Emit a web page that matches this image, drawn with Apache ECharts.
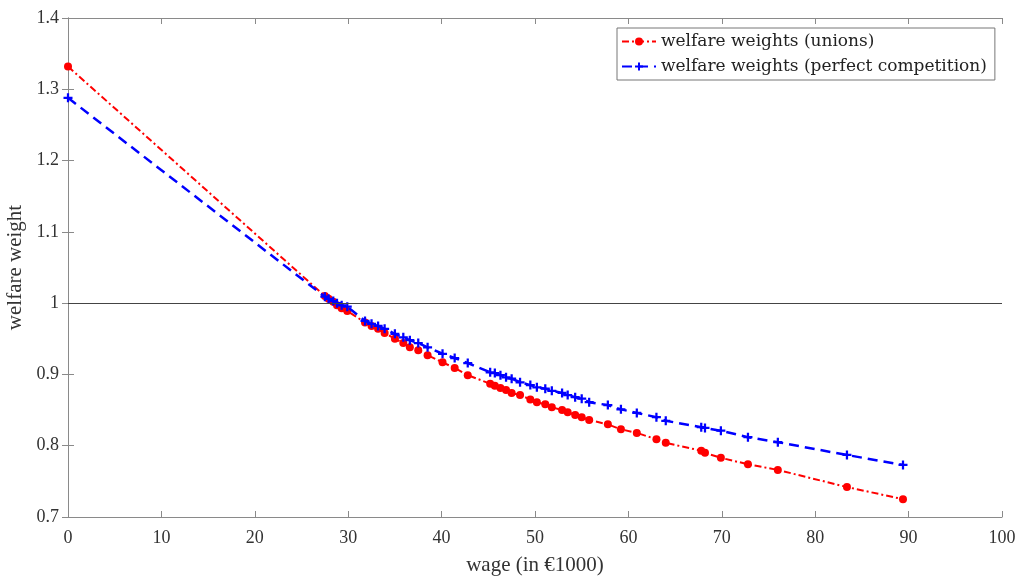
<!DOCTYPE html>
<html>
<head>
<meta charset="utf-8">
<script src="https://cdn.jsdelivr.net/npm/echarts@6/dist/echarts.min.js"></script>
<style>
  html, body { margin: 0; padding: 0; background: #fff; }
  #main { width: 1024px; height: 579px; }
</style>
</head>
<body>
<div id="main"></div>
<script>
// wage in €1000 (shared by both series)
var wages = [0, 27.5, 27.9, 28.4, 28.8, 29.3, 29.9, 31.8, 32.5, 33.2, 33.9, 35.0, 35.9, 36.6, 37.5,
  38.5, 40.1, 41.4, 42.8, 45.2, 45.7, 46.3, 46.9, 47.5, 48.4, 49.5, 50.2, 51.1, 51.8, 52.9,
  53.5, 54.3, 55.0, 55.8, 57.8, 59.2, 60.9, 63.0, 64.0, 67.8, 68.2, 69.9, 72.8, 76.0, 83.4, 89.4];

// welfare weights (unions)
var unionWeights = [1.332, 1.010, 1.006, 1.002, 0.997, 0.993, 0.989, 0.973, 0.968, 0.964, 0.958, 0.950, 0.944, 0.938, 0.934,
  0.927, 0.917, 0.909, 0.899, 0.887, 0.884, 0.881, 0.878, 0.874, 0.871, 0.865, 0.861, 0.858, 0.854, 0.850,
  0.847, 0.843, 0.840, 0.836, 0.830, 0.823, 0.818, 0.809, 0.804, 0.793, 0.790, 0.783, 0.774, 0.766, 0.742, 0.725];

// welfare weights (perfect competition)
var competitionWeights = [1.288, 1.009, 1.006, 1.003, 1.000, 0.997, 0.995, 0.975, 0.971, 0.968, 0.964, 0.957, 0.952, 0.948, 0.944,
  0.938, 0.929, 0.923, 0.916, 0.903, 0.902, 0.899, 0.896, 0.894, 0.889, 0.885, 0.882, 0.880, 0.877, 0.874,
  0.871, 0.868, 0.866, 0.861, 0.857, 0.851, 0.846, 0.840, 0.835, 0.826, 0.825, 0.821, 0.812, 0.805, 0.787, 0.773];

var seriesNames = ['welfare weights (unions)', 'welfare weights (perfect competition)'];

function pairs(xs, ys) {
  return xs.map(function (x, i) { return [x, ys[i]]; });
}

var axisGray = '#8a8a8a';
var textColor = '#333';
var font = '"Liberation Serif", "DejaVu Serif", serif';
var legendFont = '"DejaVu Serif", serif';
var plusPath = 'path://M3,0H5V3H8V5H5V8H3V5H0V3H3Z';

var myChart = echarts.init(document.getElementById('main'));
myChart.setOption({
  animation: false,
  backgroundColor: '#fff',
  textStyle: { fontFamily: font },
  grid: { left: 68, right: 22, top: 18, bottom: 62, containLabel: false, outerBoundsMode: 'none' },
  legend: {
    orient: 'vertical',
    left: 617,
    top: 28,
    padding: [5, 8, 5, 4],
    itemGap: 8,
    itemWidth: 34,
    itemHeight: 10,
    backgroundColor: '#fff',
    borderColor: '#777',
    borderWidth: 1,
    textStyle: { fontFamily: legendFont, fontSize: 17, color: '#222' },
    data: seriesNames
  },
  xAxis: [{
    type: 'value',
    min: 0, max: 100, interval: 10,
    name: 'wage (in €1000)',
    nameLocation: 'middle',
    nameGap: 38,
    nameTextStyle: { fontFamily: font, fontSize: 21, color: textColor },
    axisLine: { show: true, lineStyle: { color: axisGray } },
    axisTick: { show: true, inside: true, length: 6, lineStyle: { color: axisGray } },
    axisLabel: { fontFamily: font, fontSize: 18, color: textColor, margin: 12 },
    splitLine: { show: false }
  }, {
    type: 'value',
    position: 'top',
    min: 0, max: 100, interval: 10,
    axisLine: { show: true, lineStyle: { color: axisGray } },
    axisTick: { show: true, inside: true, length: 6, lineStyle: { color: axisGray } },
    axisLabel: { show: false },
    splitLine: { show: false }
  }],
  yAxis: [{
    type: 'value',
    min: 0.7, max: 1.4, interval: 0.1,
    name: 'welfare weight',
    nameLocation: 'middle',
    nameGap: 42,
    nameTextStyle: { fontFamily: font, fontSize: 21, color: textColor },
    axisLine: { show: true, lineStyle: { color: axisGray } },
    axisTick: { show: true, inside: true, length: 6, lineStyle: { color: axisGray } },
    axisLabel: {
      fontFamily: font, fontSize: 18, color: textColor, margin: 9,
      formatter: function (v) { return String(Math.round(v * 10) / 10); }
    },
    splitLine: { show: false }
  }, {
    type: 'value',
    position: 'right',
    min: 0.7, max: 1.4, interval: 0.1,
    axisLine: { show: true, lineStyle: { color: axisGray } },
    axisTick: { show: true, inside: true, length: 6, lineStyle: { color: axisGray } },
    axisLabel: { show: false },
    splitLine: { show: false }
  }],
  series: [{
    name: seriesNames[0],
    type: 'line',
    data: pairs(wages, unionWeights),
    symbol: 'circle',
    symbolSize: 8,
    color: '#ff0000',
    itemStyle: { color: '#ff0000' },
    lineStyle: { color: '#ff0000', width: 2, type: [7, 3, 2, 3] },
    z: 3,
    markLine: {
      silent: true,
      symbol: 'none',
      label: { show: false },
      lineStyle: { color: '#444', width: 1, type: 'solid' },
      data: [{ yAxis: 1 }]
    }
  }, {
    name: seriesNames[1],
    type: 'line',
    data: pairs(wages, competitionWeights),
    symbol: plusPath,
    symbolSize: 9,
    color: '#0000ff',
    itemStyle: { color: '#0000ff' },
    lineStyle: { color: '#0000ff', width: 2.5, type: [10, 6] },
    z: 4
  }]
});
</script>
</body>
</html>
